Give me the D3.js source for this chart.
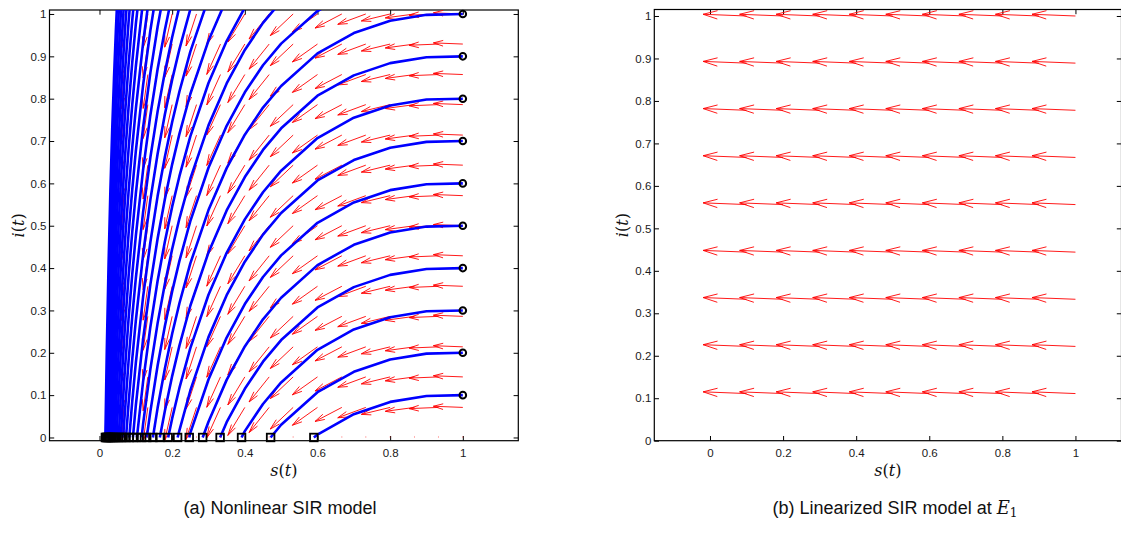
<!DOCTYPE html>
<html>
<head>
<meta charset="utf-8">
<script src="https://cdn.jsdelivr.net/npm/d3@7"></script>
<style>
  body { margin: 0; background: #fff; }
  svg { display: block; }
  .tick text { font-family: "Liberation Sans", Arial, sans-serif; font-size: 11.5px; fill: #1a1a1a; }
  .tick line { stroke: #000; stroke-width: 1; }
  .label { font-family: "DejaVu Serif", serif; font-size: 16px; fill: #111; }
  .caption { font-family: "Liberation Sans", Arial, sans-serif; font-size: 18px; fill: #111; }
</style>
</head>
<body>
<svg id="chart" width="1121" height="549"></svg>
<script>
// tick labels (same on both panels)
var sTicks = [0, 0.2, 0.4, 0.6, 0.8, 1];
var iTicks = [0, 0.1, 0.2, 0.3, 0.4, 0.5, 0.6, 0.7, 0.8, 0.9, 1];

// (a) direction field grid of the nonlinear model
var fieldS = [0.067, 0.133, 0.2, 0.267, 0.333, 0.4, 0.467, 0.533, 0.6, 0.667, 0.733, 0.8, 0.867, 0.933, 1];
var fieldI = [0.071, 0.143, 0.214, 0.286, 0.357, 0.429, 0.5, 0.571, 0.643, 0.714, 0.786, 0.857, 0.929, 1];
// arrow direction for each column (ds, di)
var fieldDir = [[-0.074, -0.997], [-0.158, -0.987], [-0.253, -0.968], [-0.356, -0.934], [-0.466, -0.885],
                [-0.577, -0.817], [-0.683, -0.731], [-0.777, -0.63], [-0.854, -0.521], [-0.912, -0.41],
                [-0.953, -0.302], [-0.979, -0.203], [-0.993, -0.114], [-0.999, -0.035], [-0.999, 0.034]];

// (a) trajectories, [s, i] points; first ten start at the circles (s = 1)
var trajectories = [
  [[1,0.1],[0.9,0.098],[0.8,0.084],[0.7,0.055],[0.6,0.007],[0.59,0]],
  [[1,0.2],[0.9,0.198],[0.8,0.184],[0.7,0.155],[0.6,0.107],[0.5,0.03],[0.471,0]],
  [[1,0.3],[0.9,0.298],[0.8,0.284],[0.7,0.255],[0.6,0.207],[0.5,0.13],[0.45,0.079],[0.4,0.015],[0.391,0]],
  [[1,0.4],[0.9,0.398],[0.8,0.384],[0.7,0.355],[0.6,0.307],[0.5,0.23],[0.45,0.179],[0.4,0.115],[0.35,0.036],[0.332,0]],
  [[1,0.5],[0.9,0.498],[0.8,0.484],[0.7,0.455],[0.6,0.407],[0.5,0.33],[0.45,0.279],[0.4,0.215],[0.35,0.136],[0.3,0.037],[0.284,0]],
  [[1,0.6],[0.9,0.598],[0.8,0.584],[0.7,0.555],[0.6,0.507],[0.5,0.43],[0.45,0.379],[0.4,0.315],[0.35,0.236],[0.3,0.137],[0.25,0.011],[0.247,0]],
  [[1,0.7],[0.9,0.698],[0.8,0.684],[0.7,0.655],[0.6,0.607],[0.5,0.53],[0.45,0.479],[0.4,0.415],[0.35,0.336],[0.3,0.237],[0.25,0.111],[0.22,0.017],[0.215,0]],
  [[1,0.8],[0.9,0.798],[0.8,0.784],[0.7,0.755],[0.6,0.707],[0.5,0.63],[0.45,0.579],[0.4,0.515],[0.35,0.436],[0.3,0.337],[0.25,0.211],[0.22,0.117],[0.2,0.045],[0.189,0]],
  [[1,0.9],[0.9,0.898],[0.8,0.884],[0.7,0.855],[0.6,0.807],[0.5,0.73],[0.45,0.679],[0.4,0.615],[0.35,0.536],[0.3,0.437],[0.25,0.311],[0.22,0.217],[0.2,0.145],[0.18,0.063],[0.166,0]],
  [[1,1],[0.9,0.998],[0.8,0.984],[0.7,0.955],[0.6,0.907],[0.5,0.83],[0.45,0.779],[0.4,0.715],[0.35,0.636],[0.3,0.537],[0.25,0.411],[0.22,0.317],[0.2,0.245],[0.18,0.163],[0.16,0.07],[0.147,0]],
  [[0.7,1.055],[0.6,1.007],[0.5,0.93],[0.45,0.879],[0.4,0.815],[0.35,0.736],[0.3,0.637],[0.25,0.511],[0.22,0.417],[0.2,0.345],[0.18,0.263],[0.16,0.17],[0.14,0.061],[0.13,0]],
  [[0.6,1.107],[0.5,1.03],[0.45,0.979],[0.4,0.915],[0.35,0.836],[0.3,0.737],[0.25,0.611],[0.22,0.517],[0.2,0.445],[0.18,0.363],[0.16,0.27],[0.14,0.161],[0.12,0.032],[0.116,0]],
  [[0.45,1.079],[0.4,1.015],[0.35,0.936],[0.3,0.837],[0.25,0.711],[0.22,0.617],[0.2,0.545],[0.18,0.463],[0.16,0.37],[0.14,0.261],[0.12,0.132],[0.103,0]],
  [[0.4,1.115],[0.35,1.036],[0.3,0.937],[0.25,0.811],[0.22,0.717],[0.2,0.645],[0.18,0.563],[0.16,0.47],[0.14,0.361],[0.12,0.232],[0.1,0.076],[0.092,0]],
  [[0.35,1.136],[0.3,1.037],[0.25,0.911],[0.22,0.817],[0.2,0.745],[0.18,0.663],[0.16,0.57],[0.14,0.461],[0.12,0.332],[0.1,0.176],[0.09,0.084],[0.082,0]],
  [[0.3,1.137],[0.25,1.011],[0.22,0.917],[0.2,0.845],[0.18,0.763],[0.16,0.67],[0.14,0.561],[0.12,0.432],[0.1,0.276],[0.09,0.184],[0.08,0.08],[0.073,0]],
  [[0.25,1.111],[0.22,1.017],[0.2,0.945],[0.18,0.863],[0.16,0.77],[0.14,0.661],[0.12,0.532],[0.1,0.376],[0.09,0.284],[0.08,0.18],[0.07,0.061],[0.065,0]],
  [[0.22,1.117],[0.2,1.045],[0.18,0.963],[0.16,0.87],[0.14,0.761],[0.12,0.632],[0.1,0.476],[0.09,0.384],[0.08,0.28],[0.07,0.161],[0.06,0.022],[0.059,0]],
  [[0.2,1.145],[0.18,1.063],[0.16,0.97],[0.14,0.861],[0.12,0.732],[0.1,0.576],[0.09,0.484],[0.08,0.38],[0.07,0.261],[0.06,0.122],[0.053,0]],
  [[0.18,1.163],[0.16,1.07],[0.14,0.961],[0.12,0.832],[0.1,0.676],[0.09,0.584],[0.08,0.48],[0.07,0.361],[0.06,0.222],[0.05,0.056],[0.047,0]],
  [[0.16,1.17],[0.14,1.061],[0.12,0.932],[0.1,0.776],[0.09,0.684],[0.08,0.58],[0.07,0.461],[0.06,0.322],[0.05,0.156],[0.045,0.059],[0.042,0]],
  [[0.14,1.161],[0.12,1.032],[0.1,0.876],[0.09,0.784],[0.08,0.68],[0.07,0.561],[0.06,0.422],[0.05,0.256],[0.045,0.159],[0.04,0.05],[0.038,0]],
  [[0.12,1.132],[0.1,0.976],[0.09,0.884],[0.08,0.78],[0.07,0.661],[0.06,0.522],[0.05,0.356],[0.045,0.259],[0.04,0.15],[0.035,0.027],[0.034,0]],
  [[0.12,1.232],[0.1,1.076],[0.09,0.984],[0.08,0.88],[0.07,0.761],[0.06,0.622],[0.05,0.456],[0.045,0.359],[0.04,0.25],[0.035,0.127],[0.031,0]],
  [[0.1,1.176],[0.09,1.084],[0.08,0.98],[0.07,0.861],[0.06,0.722],[0.05,0.556],[0.045,0.459],[0.04,0.35],[0.035,0.227],[0.03,0.083],[0.0275,0]],
  [[0.09,1.184],[0.08,1.08],[0.07,0.961],[0.06,0.822],[0.05,0.656],[0.045,0.559],[0.04,0.45],[0.035,0.327],[0.03,0.183],[0.025,0.011],[0.0247,0]],
  [[0.08,1.18],[0.07,1.061],[0.06,0.922],[0.05,0.756],[0.045,0.659],[0.04,0.55],[0.035,0.427],[0.03,0.283],[0.025,0.111],[0.0222,0]],
  [[0.07,1.161],[0.06,1.022],[0.05,0.856],[0.045,0.759],[0.04,0.65],[0.035,0.527],[0.03,0.383],[0.025,0.211],[0.02,0]],
  [[0.06,1.122],[0.05,0.956],[0.045,0.859],[0.04,0.75],[0.035,0.627],[0.03,0.483],[0.025,0.311],[0.02,0.101],[0.018,0]],
  [[0.06,1.222],[0.05,1.056],[0.045,0.959],[0.04,0.85],[0.035,0.727],[0.03,0.583],[0.025,0.411],[0.02,0.201],[0.0162,0]]
];

// (b) direction field of the linearized model at E1
var linS = [0.1, 0.2, 0.3, 0.4, 0.5, 0.6, 0.7, 0.8, 0.9, 1];
var linI = [0.111, 0.222, 0.333, 0.444, 0.556, 0.667, 0.778, 0.889, 1];
var linDir = [-0.999, 0.034];

var svg = d3.select("#chart");
var TICK = 4.7;

function panel(id, box, sDom, iDom) {
  var x = d3.scaleLinear().domain(sDom).range([box.left, box.right]);
  var y = d3.scaleLinear().domain(iDom).range([box.bottom, box.top]);
  var g = svg.append("g").attr("class", "panel-" + id);

  g.append("clipPath").attr("id", "clip-" + id)
    .append("rect")
    .attr("x", box.left).attr("y", box.top)
    .attr("width", box.right - box.left).attr("height", box.bottom - box.top);

  var fmt = function(d) { return d3.format("~g")(d); };
  g.append("g").attr("transform", "translate(0," + box.bottom + ")")
    .call(d3.axisBottom(x).tickValues(sTicks).tickFormat(fmt).tickSizeInner(-TICK).tickSizeOuter(0).tickPadding(8));
  g.append("g").attr("transform", "translate(0," + box.top + ")")
    .call(d3.axisTop(x).tickValues(sTicks).tickFormat("").tickSizeInner(-TICK).tickSizeOuter(0));
  g.append("g").attr("transform", "translate(" + box.left + ",0)")
    .call(d3.axisLeft(y).tickValues(iTicks).tickFormat(fmt).tickSizeInner(-TICK).tickSizeOuter(0).tickPadding(3));
  g.append("g").attr("transform", "translate(" + box.right + ",0)")
    .call(d3.axisRight(y).tickValues(iTicks).tickFormat("").tickSizeInner(-TICK).tickSizeOuter(0));
  g.selectAll(".domain").remove();

  g.append("rect")
    .attr("x", box.left).attr("y", box.top)
    .attr("width", box.right - box.left).attr("height", box.bottom - box.top)
    .attr("fill", "none").attr("stroke", "#000").attr("stroke-width", 1.2);

  var cx = (box.left + box.right) / 2;
  var sl = g.append("text").attr("class", "label")
    .attr("x", cx).attr("y", 476).attr("text-anchor", "middle");
  sl.append("tspan").attr("font-style", "italic").text("s");
  sl.append("tspan").text("(");
  sl.append("tspan").attr("font-style", "italic").text("t");
  sl.append("tspan").text(")");

  var cy = (box.top + box.bottom) / 2;
  var il = g.append("text").attr("class", "label")
    .attr("transform", "translate(" + (box.left - 26) + "," + cy + ") rotate(-90)")
    .attr("text-anchor", "middle");
  il.append("tspan").attr("font-style", "italic").text("i");
  il.append("tspan").text("(");
  il.append("tspan").attr("font-style", "italic").text("t");
  il.append("tspan").text(")");

  var plot = g.append("g").attr("clip-path", "url(#clip-" + id + ")");
  return { x: x, y: y, g: g, plot: plot };
}

// quiver style arrow: shaft plus two barbs, built in data units
function arrow(x, y, s, i, u, v) {
  var a = 0.33, b = 0.25;
  var hs = s + u, hi = i + v;
  var p = d3.path();
  p.moveTo(x(s), y(i));
  p.lineTo(x(hs), y(hi));
  p.moveTo(x(hs - a * (u + b * v)), y(hi - a * (v - b * u)));
  p.lineTo(x(hs), y(hi));
  p.lineTo(x(hs - a * (u - b * v)), y(hi - a * (v + b * u)));
  return p.toString();
}

// ---------- (a) nonlinear ----------
var A = panel("a", { left: 49.5, right: 518.3, top: 10, bottom: 440.7 },
  [-0.1376, 1.1527], [-0.0076, 1.0094]);

var LEN_A = 0.081;
var cells = [];
fieldS.forEach(function(s, k) {
  fieldI.forEach(function(i) { cells.push({ s: s, i: i, d: fieldDir[k] }); });
});

A.plot.append("g").selectAll("path").data(cells).enter().append("path")
  .attr("d", function(c) { return arrow(A.x, A.y, c.s, c.i, LEN_A * c.d[0], LEN_A * c.d[1]); })
  .attr("fill", "none").attr("stroke", "#ff0000").attr("stroke-width", 0.9);

// zero-length arrows along i = 0
A.g.append("g").selectAll("line").data(fieldS).enter().append("line")
  .attr("x1", function(s) { return A.x(s); }).attr("x2", function(s) { return A.x(s); })
  .attr("y1", A.y(0) - 1.5).attr("y2", A.y(0) + 0.5)
  .attr("stroke", "#ff0000").attr("stroke-opacity", 0.3).attr("stroke-width", 1);

var line = d3.line().x(function(d) { return A.x(d[0]); }).y(function(d) { return A.y(d[1]); });
A.plot.append("g").selectAll("path").data(trajectories).enter().append("path")
  .attr("d", line)
  .attr("fill", "none").attr("stroke", "#0000ff").attr("stroke-width", 2.6)
  .attr("stroke-linejoin", "round");

// end markers (squares) at the last point of every trajectory
A.g.append("g").selectAll("rect").data(trajectories).enter().append("rect")
  .attr("x", function(t) { return A.x(t[t.length - 1][0]) - 3.8; })
  .attr("y", function(t) { return A.y(t[t.length - 1][1]) - 3.8; })
  .attr("width", 7.6).attr("height", 7.6)
  .attr("fill", "none").attr("stroke", "#000").attr("stroke-width", 1.8);

// start markers (circles) where a trajectory begins at s = 1
A.g.append("g").selectAll("circle")
  .data(trajectories.filter(function(t) { return t[0][0] === 1; }))
  .enter().append("circle")
  .attr("cx", function(t) { return A.x(t[0][0]); })
  .attr("cy", function(t) { return A.y(t[0][1]); })
  .attr("r", 3.3)
  .attr("fill", "none").attr("stroke", "#000").attr("stroke-width", 2);

// ---------- (b) linearized ----------
var B = panel("b", { left: 654.3, right: 1121.5, top: 9.5, bottom: 440.7 },
  [-0.1524, 1.126], [0, 1.0153]);

var LEN_B = 0.119;
var linCells = [];
linI.forEach(function(i) { linS.forEach(function(s) { linCells.push({ s: s, i: i }); }); });

B.plot.append("g").selectAll("path").data(linCells).enter().append("path")
  .attr("d", function(c) { return arrow(B.x, B.y, c.s, c.i, LEN_B * linDir[0], LEN_B * linDir[1]); })
  .attr("fill", "none").attr("stroke", "#ff0000").attr("stroke-width", 0.9);

// ---------- captions ----------
svg.append("text").attr("class", "caption")
  .attr("x", 280).attr("y", 514).attr("text-anchor", "middle")
  .text("(a) Nonlinear SIR model");

var cb = svg.append("text").attr("class", "caption")
  .attr("x", 895).attr("y", 514).attr("text-anchor", "middle");
cb.append("tspan").text("(b) Linearized SIR model at ");
cb.append("tspan").attr("font-family", "DejaVu Serif, serif").attr("font-style", "italic").text("E");
cb.append("tspan").attr("font-family", "DejaVu Serif, serif").attr("font-size", "12px").attr("dy", 3).text("1");
</script>
</body>
</html>
